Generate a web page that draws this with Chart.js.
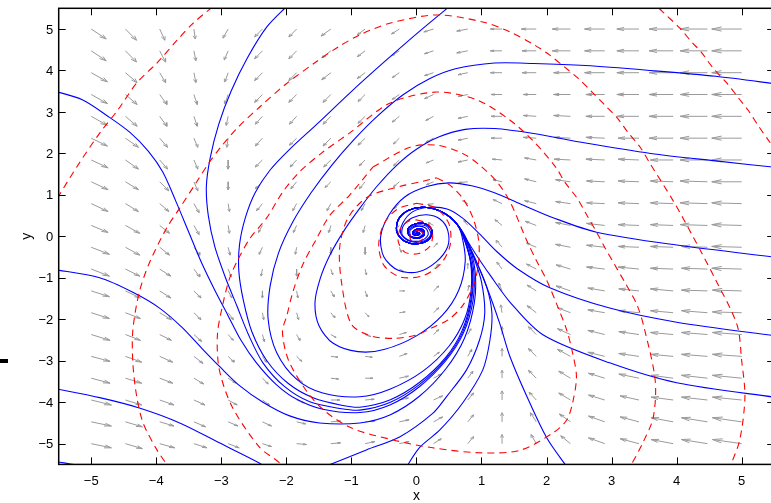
<!DOCTYPE html>
<html>
<head>
<meta charset="utf-8">
<script src="https://cdn.jsdelivr.net/npm/chart.js@4.4.1/dist/chart.umd.min.js"></script>
<style>
  html, body { margin: 0; padding: 0; background: #fff; overflow: hidden; }
  #caja { position: relative; width: 776px; height: 503px; }
  #raya { position: absolute; left: 0; top: 359px; width: 8px; height: 4px; background: #000; }
</style>
</head>
<body>
<div id="caja">
  <canvas id="grafico" width="776" height="503"></canvas>
  <div id="raya"></div>
</div>
<script>
// ticks
const xTicks = [-5, -4, -3, -2, -1, 0, 1, 2, 3, 4, 5];
const yTicks = [-5, -4, -3, -2, -1, 0, 1, 2, 3, 4, 5];

// malla de flechas (columnas x, filas y de arriba a abajo)
const gridX = [-5, -4.474, -3.947, -3.421, -2.895, -2.368, -1.842, -1.316, -0.789, -0.263, 0.263, 0.789, 1.316, 1.842, 2.368, 2.895, 3.421, 3.947, 4.474, 5];
const gridY = [5, 4.474, 3.947, 3.421, 2.895, 2.368, 1.842, 1.316, 0.789, 0.263, -0.263, -0.789, -1.316, -1.842, -2.368, -2.895, -3.421, -3.947, -4.474, -5];

// componente x de cada flecha, una lista por columna
const arrowU = [
  [.23,.23,.25,.25,.25,.25,.26,.26,.26,.26,.28,.28,.28,.28,.29,.29,.29,.31,.31,.31],
  [.17,.17,.18,.18,.18,.2,.2,.2,.2,.22,.22,.22,.23,.23,.23,.25,.25,.25,.26,.26],
  [.08,.09,.09,.11,.11,.12,.12,.14,.14,.15,.15,.17,.17,.18,.18,.2,.2,.22,.22,.23],
  [.02,.03,.03,.05,.05,.06,.06,.06,.08,.08,.09,.09,.11,.11,.12,.14,.15,.17,.18,.2],
  [-.08,-.06,-.05,-.05,-.03,-.02,0,0,.02,.02,.03,.05,.06,.08,.08,.09,.12,.14,.15,.17],
  [-.12,-.12,-.12,-.12,-.11,-.11,-.11,-.11,-.09,-.06,-.05,-.02,0,.02,.03,.06,.09,.11,.14,.14],
  [-.12,-.12,-.12,-.12,-.11,-.11,-.1,-.09,-.06,-.05,-.02,0,.02,.03,.05,.08,.09,.12,.14,.15],
  [-.15,-.14,-.14,-.12,-.12,-.12,-.11,-.09,-.06,-.03,0,.03,.05,.06,.08,.11,.12,.14,.15,.15],
  [-.12,-.12,-.12,-.11,-.11,-.11,-.09,-.09,-.06,-.03,0,.02,.03,.06,.09,.11,.12,.14,.15,.15],
  [-.12,-.12,-.11,-.11,-.11,-.09,-.09,-.09,-.08,-.06,.03,.06,.08,.09,.11,.12,.14,.14,.15,.15],
  [-.15,-.14,-.14,-.14,-.12,-.12,-.11,-.11,-.09,-.08,.06,.08,.08,.08,.08,.09,.12,.14,.14,.12],
  [-.17,-.17,-.15,-.15,-.15,-.15,-.15,-.14,-.08,-.06,-.03,0,.02,.03,.05,.06,.08,.09,.09,.09],
  [-.18,-.18,-.18,-.17,-.17,-.17,-.15,-.14,-.14,-.11,-.09,-.08,-.05,-.02,0,0,0,0,0,0],
  [-.23,-.22,-.22,-.2,-.2,-.2,-.18,-.18,-.18,-.17,-.15,-.15,-.14,-.14,-.12,-.12,-.12,-.11,-.09,-.08],
  [-.28,-.28,-.26,-.26,-.26,-.25,-.25,-.23,-.23,-.23,-.23,-.22,-.22,-.2,-.2,-.2,-.18,-.18,-.17,-.15],
  [-.31,-.31,-.31,-.29,-.29,-.29,-.29,-.28,-.28,-.28,-.28,-.28,-.26,-.26,-.26,-.26,-.25,-.25,-.25,-.25],
  [-.34,-.34,-.34,-.34,-.34,-.32,-.32,-.32,-.32,-.32,-.32,-.32,-.31,-.31,-.31,-.31,-.31,-.29,-.29,-.29],
  [-.37,-.37,-.37,-.37,-.37,-.37,-.35,-.35,-.35,-.35,-.35,-.35,-.35,-.35,-.35,-.34,-.34,-.34,-.34,-.34],
  [-.42,-.42,-.42,-.42,-.42,-.42,-.42,-.42,-.42,-.42,-.4,-.4,-.4,-.4,-.4,-.4,-.4,-.4,-.4,-.4],
  [-.46,-.46,-.46,-.46,-.46,-.46,-.46,-.46,-.46,-.46,-.46,-.46,-.45,-.45,-.45,-.45,-.45,-.45,-.45,-.45]
];
// componente y de cada flecha, una lista por columna
const arrowV = [
  [-.24,-.24,-.22,-.22,-.22,-.19,-.19,-.19,-.19,-.17,-.17,-.17,-.14,-.14,-.14,-.12,-.12,-.12,-.1,-.1],
  [-.27,-.27,-.24,-.24,-.24,-.22,-.22,-.19,-.19,-.19,-.19,-.17,-.17,-.14,-.14,-.14,-.12,-.12,-.12,-.12],
  [-.27,-.27,-.24,-.24,-.24,-.22,-.22,-.22,-.19,-.19,-.19,-.17,-.17,-.17,-.14,-.14,-.12,-.12,-.1,-.1],
  [-.24,-.24,-.24,-.24,-.24,-.22,-.22,-.22,-.22,-.22,-.19,-.19,-.17,-.17,-.17,-.17,-.14,-.12,-.12,-.1],
  [-.22,-.22,-.22,-.22,-.22,-.22,-.22,-.19,-.19,-.19,-.19,-.19,-.17,-.17,-.14,-.14,-.12,-.12,-.1,-.1],
  [-.19,-.19,-.19,-.19,-.19,-.19,-.17,-.17,-.17,-.17,-.17,-.17,-.17,-.17,-.17,-.14,-.14,-.12,-.1,-.07],
  [-.19,-.19,-.19,-.19,-.19,-.17,-.17,-.17,-.17,-.17,-.17,-.17,-.17,-.17,-.14,-.12,-.1,-.07,-.05,-.02],
  [-.17,-.17,-.17,-.19,-.19,-.19,-.17,-.14,-.17,-.17,-.17,-.14,-.14,-.12,-.07,-.02,-.02,0,.02,.02],
  [-.14,-.14,-.14,-.17,-.17,-.17,-.14,-.17,-.17,-.17,-.17,-.14,-.14,-.1,-.05,-.02,0,.02,.02,.05],
  [-.12,-.12,-.12,-.12,-.14,-.14,-.14,-.12,-.12,-.12,-.12,-.05,0,.02,.05,.07,.05,.05,.05,.05],
  [-.07,-.07,-.07,-.1,-.1,-.1,-.07,-.07,-.02,.07,.1,.12,.12,.12,.12,.1,.1,.1,.12,.12],
  [-.05,-.05,-.05,-.05,-.05,-.05,-.05,-.02,.07,.12,.14,.14,.14,.14,.14,.17,.17,.17,.17,.17],
  [0,0,0,0,0,0,.02,.05,.1,.14,.17,.17,.19,.19,.19,.19,.19,.22,.22,.22],
  [0,0,0,0,.02,.02,.05,.07,.07,.1,.1,.12,.14,.17,.19,.19,.19,.19,.22,.22],
  [0,0,0,0,.02,.02,.02,.05,.05,.07,.07,.1,.12,.12,.14,.17,.17,.17,.19,.19],
  [0,0,0,0,0,.02,.02,.02,.02,.05,.05,.05,.07,.07,.1,.1,.12,.12,.14,.14],
  [0,0,0,0,0,0,.02,.02,.02,.02,.02,.05,.05,.05,.07,.07,.1,.1,.12,.12],
  [0,0,0,0,0,0,0,.02,.02,.02,.02,.02,.05,.05,.05,.05,.07,.07,.1,.1],
  [0,0,0,0,0,0,0,.02,.02,.02,.02,.02,.02,.05,.05,.05,.07,.07,.1,.1],
  [0,0,0,0,0,0,0,0,.02,.02,.02,.02,.02,.02,.05,.05,.07,.07,.1,.1]
];

// trayectorias azules (x, y)
const nucleo = [[0.62,0.3],[0.4,0.58],[0.12,0.7],[-0.12,0.63],[-0.28,0.4],[-0.3,0.1],[-0.18,-0.12],[0.02,-0.18],[0.2,-0.06],[0.24,0.14],[0.14,0.3],[-0.02,0.3],[-0.13,0.18],[-0.11,0.02],[0.02,-0.05],[0.12,0.04],[0.1,0.16],[0,0.17],[-0.06,0.08],[-0.01,0.02],[0.05,0.06],[0.02,0.1],[0,0.06]];
const tray1 = [[-5.6,3.52],[-5.13,3.29],[-4.72,2.87],[-4.4,2.5],[-4.12,2.05],[-3.9,1.55],[-3.7,0.85],[-3.5,0.1],[-3.3,-0.65],[-3.1,-1.3],[-2.9,-1.9],[-2.7,-2.5],[-2.46,-3.05],[-2.15,-3.58],[-1.84,-3.93],[-1.44,-4.17],[-0.87,-4.25],[-0.4,-4.06],[0.05,-3.62],[0.45,-3.0],[0.72,-2.34],[0.87,-1.55],[0.88,-0.82],[0.78,-0.16]];
const tray2 = [[-1.96,5.6],[-2.3,5.05],[-2.6,4.3],[-2.85,3.5],[-3.04,2.7],[-3.17,1.9],[-3.23,1.2],[-3.2,0.5],[-3.1,-0.25],[-2.94,-0.98],[-2.76,-1.68],[-2.58,-2.38],[-2.36,-3.05],[-2.03,-3.62],[-1.64,-3.99],[-1.18,-4.15],[-0.87,-4.19],[-0.4,-4.0],[0.05,-3.57],[0.45,-2.96],[0.71,-2.31],[0.85,-1.53],[0.86,-0.8],[0.76,-0.15]];
const tray3 = [[0.55,5.6],[0.05,4.95],[-0.5,4.2],[-1.03,3.45],[-1.5,2.75],[-1.95,2.1],[-2.25,1.6],[-2.48,1.05],[-2.63,0.45],[-2.72,-0.2],[-2.73,-0.85],[-2.66,-1.55],[-2.53,-2.3],[-2.3,-3.0],[-1.97,-3.55],[-1.58,-3.9],[-1.13,-4.08],[-0.87,-4.12],[-0.4,-3.94],[0.05,-3.52],[0.45,-2.92],[0.7,-2.28],[0.84,-1.5],[0.85,-0.78],[0.75,-0.14]];
const tray4 = [[5.6,3.66],[4.6,3.86],[3.6,4.0],[2.6,4.12],[1.8,4.17],[1.2,4.18],[0.6,4.04],[0.2,3.8],[-0.2,3.42],[-0.6,2.9],[-0.95,2.35],[-1.3,1.72],[-1.62,1.05],[-1.9,0.35],[-2.12,-0.4],[-2.25,-1.2],[-2.28,-2.0],[-2.15,-2.8],[-1.84,-3.45],[-1.44,-3.78],[-0.87,-3.87],[-0.4,-3.68],[0.1,-3.25],[0.5,-2.65],[0.74,-2.0],[0.84,-1.3],[0.83,-0.6],[0.73,-0.05]];
const tray5 = [[5.6,1.65],[4.6,1.82],[3.6,2.0],[2.6,2.25],[1.8,2.48],[1.2,2.6],[0.75,2.58],[0.35,2.4],[0.0,2.1],[-0.3,1.72],[-0.6,1.22],[-0.87,0.68],[-1.12,0.12],[-1.33,-0.45],[-1.48,-1.02],[-1.56,-1.6],[-1.5,-2.15],[-1.28,-2.58],[-0.9,-2.78],[-0.5,-2.73],[0.0,-2.4],[0.4,-1.9],[0.65,-1.3],[0.75,-0.6],[0.7,0.0]];
const tray6 = [[5.6,-0.52],[4.0,-0.21],[2.77,0.1],[2.1,0.45],[1.6,0.78],[1.2,1.05],[0.85,1.22],[0.5,1.29],[0.16,1.2],[-0.18,0.95],[-0.42,0.52],[-0.55,0.0],[-0.5,-0.5],[-0.28,-0.82],[0.02,-0.86],[0.3,-0.62],[0.48,-0.25],[0.48,0.15],[0.36,0.42],[0.16,0.52],[-0.06,0.45],[-0.2,0.26],[-0.22,0.04],[-0.1,-0.1],[0.08,-0.1],[0.18,0.04],[0.14,0.2],[0,0.24],[-0.1,0.14],[-0.08,0],[0.04,-0.02],[0.1,0.08],[0.04,0.14],[-0.03,0.09],[0,0.04]];
const tray7 = [[5.6,-2.42],[4.0,-2.07],[2.97,-1.73],[2.05,-1.24],[1.55,-0.78],[1.23,-0.36],[0.97,0.06],[0.71,0.44],[0.47,0.66],[0.2,0.7],[-0.06,0.59],[-0.21,0.32],[-0.24,0.06],[-0.1,-0.12],[0.1,-0.12],[0.22,0.04],[0.16,0.24],[0,0.27],[-0.12,0.15],[-0.1,0],[0.04,-0.04],[0.12,0.06],[0.06,0.15],[-0.03,0.1],[0,0.04]];
const tray8 = [[5.6,-3.9],[4.0,-3.53],[2.97,-3.05],[1.95,-2.38],[1.44,-1.59],[1.13,-0.93],[0.9,-0.4],[0.76,-0.05]];
const tray9 = [[2.33,-5.6],[2.0,-4.85],[1.7,-3.87],[1.44,-2.91],[1.28,-2.1],[1.08,-1.22],[0.82,-0.26]];
const tray10 = [[-0.17,-5.6],[0.05,-5.09],[0.36,-4.67],[0.71,-4.02],[1.02,-3.22],[1.13,-2.5],[1.16,-1.85],[1.08,-1.22],[0.92,-0.6],[0.8,-0.2]];
const tray11 = [[-1.48,-5.6],[-0.77,-5.15],[-0.26,-4.84],[0.25,-4.27],[0.46,-3.87],[0.77,-3.22],[0.97,-2.5],[1.05,-1.85],[1.0,-1.1],[0.88,-0.5],[0.77,-0.1]];
const tray12 = [[-5.6,-0.79],[-4.87,-1.0],[-4.36,-1.35],[-3.95,-1.73],[-3.6,-2.2],[-3.3,-2.7],[-3.02,-3.15],[-2.72,-3.6],[-2.36,-4.0],[-1.95,-4.33],[-1.49,-4.5],[-0.87,-4.5],[-0.4,-4.3],[0.05,-3.85],[0.45,-3.2],[0.74,-2.45],[0.89,-1.6],[0.9,-0.82],[0.79,-0.14]];
const tray13 = [[-5.6,-3.66],[-4.87,-3.89],[-4.26,-4.14],[-3.64,-4.5],[-3.03,-4.98],[-2.41,-5.47],[-2.3,-5.6]];
const tray14 = [[-5.6,-5.42],[-5.22,-5.52],[-5.1,-5.6]];

// curvas rojas discontinuas
const rojaO1 = [[-5.75,0.3],[-5.52,0.92],[-5.22,1.68],[-4.87,2.49],[-4.59,3.05],[-4.3,3.7],[-3.99,4.18],[-3.68,4.73],[-3.44,5.13],[-3.2,5.45],[-3.0,5.7]];
const rojaO2 = [[3.6,5.7],[3.79,5.41],[4.05,5.02],[4.23,4.69],[4.39,4.42],[4.56,4.06],[4.77,3.7],[4.94,3.36],[5.1,3.04],[5.25,2.68],[5.41,2.32],[5.6,1.9]];
const rojaA = [[-3.8,-5.7],[-3.84,-5.51],[-3.99,-5.15],[-4.2,-4.51],[-4.3,-3.87],[-4.36,-3.05],[-4.36,-2.26],[-4.26,-1.34],[-4.1,-0.62],[-3.84,0.2],[-3.64,0.68],[-3.38,1.31],[-3.2,1.75],[-3.0,2.17],[-2.75,2.62],[-2.41,3.12],[-2.0,3.68],[-1.55,4.2],[-1.2,4.57],[-0.87,4.86],[-0.41,5.14],[0.31,5.34],[1.02,5.17],[1.44,4.93],[1.82,4.61],[2.05,4.37],[2.28,4.08],[2.48,3.82],[2.7,3.48],[2.9,3.16],[3.09,2.85],[3.25,2.51],[3.44,2.15],[3.59,1.76],[3.95,0.85],[4.25,0.0],[4.6,-1.05],[4.93,-2.14],[5.0,-3.0],[5.05,-3.87],[4.97,-4.91],[4.82,-5.56],[4.78,-5.7]];
const rojaB = [[-2.0,-5.7],[-2.1,-5.47],[-2.41,-5.09],[-2.83,-4.12],[-3.03,-3.22],[-3.06,-2.38],[-2.98,-1.66],[-2.87,-1.0],[-2.74,-0.55],[-2.56,-0.05],[-2.3,0.45],[-2.06,1.06],[-1.8,1.55],[-1.45,2.02],[-1.03,2.49],[-0.41,3.21],[0.31,3.48],[0.93,3.29],[1.44,2.8],[1.82,2.26],[2.15,1.65],[2.28,1.31],[2.47,0.92],[2.62,0.51],[2.77,0.1],[2.9,-0.28],[3.05,-0.69],[3.2,-1.1],[3.39,-1.65],[3.5,-2.2],[3.67,-3.47],[3.64,-4.37],[3.48,-4.98],[3.28,-5.56],[3.2,-5.7]];
const rojaC = [[-0.67,1.67],[-0.1,2.15],[0.31,2.2],[0.71,2.0],[0.97,1.72],[1.24,1.31],[1.44,0.83],[1.69,-0.08],[1.84,-0.57],[2.0,-1.05],[2.15,-1.61],[2.31,-2.26],[2.4,-2.81],[2.46,-3.39],[2.4,-4.02],[2.31,-4.43],[2.1,-4.74],[1.59,-5.16],[0.97,-5.22],[0.25,-5.1],[-0.36,-4.91],[-1.03,-4.6],[-1.54,-4.02],[-1.95,-3.05],[-2.06,-2.31],[-1.99,-1.9],[-1.9,-1.34],[-1.75,-0.69],[-1.53,-0.04],[-1.33,0.51],[-1.03,0.99],[-0.67,1.67]];
const rojaD = [[0.31,1.41],[0.51,1.24],[0.71,0.92],[0.87,0.44],[0.96,-0.14],[0.95,-0.7],[0.87,-1.2],[0.71,-1.67],[0.5,-2.0],[0.25,-2.2],[0.0,-2.38],[-0.35,-2.46],[-0.7,-2.4],[-1.0,-2.12],[-1.15,-1.13],[-1.18,-0.26],[-1.05,0.45],[-0.75,0.95],[-0.26,1.2],[0.1,1.33],[0.31,1.41]];
const rojaE = [[0.0,0.8],[0.3,0.68],[0.5,0.3],[0.52,-0.2],[0.38,-0.65],[0.1,-0.95],[-0.25,-0.98],[-0.5,-0.7],[-0.58,-0.2],[-0.5,0.3],[-0.3,0.65],[0.0,0.8]];
const rojaF = [[0.0,0.4],[0.18,0.3],[0.25,0.05],[0.2,-0.25],[0.02,-0.42],[-0.18,-0.38],[-0.28,-0.12],[-0.25,0.18],[-0.13,0.36],[0.0,0.4]];
const rojaG = [[0.02,0.15],[0.1,0.08],[0.1,-0.06],[0.0,-0.14],[-0.09,-0.08],[-0.09,0.05],[0.02,0.15]];

const azules = [
  tray1.concat(nucleo), tray2.concat(nucleo), tray3.concat(nucleo), tray4.concat(nucleo),
  tray5.concat(nucleo), tray6, tray7, tray8.concat(nucleo), tray9.concat(nucleo),
  tray10.concat(nucleo), tray11.concat(nucleo), tray12.concat(nucleo), tray13, tray14
];
const rojas = [rojaO1, rojaO2, rojaA, rojaB, rojaC, rojaD, rojaE, rojaF, rojaG];

const aPuntos = (lista) => lista.map(p => ({x: p[0], y: p[1]}));

// flechas estilo quiver (alpha = beta = 0.33)
let flechas = [];
const alfa = 0.33, beta = 0.33;
gridX.forEach((x, c) => {
  gridY.forEach((y, f) => {
    let u = arrowU[c][f], v = arrowV[c][f];
    let tx = x + u, ty = y + v;
    flechas.push({x: x, y: y}, {x: tx, y: ty}, {x: null, y: null});
    flechas.push({x: tx - alfa * (u + beta * v), y: ty - alfa * (v - beta * u)});
    flechas.push({x: tx, y: ty});
    flechas.push({x: tx - alfa * (u - beta * v), y: ty - alfa * (v + beta * u)});
    flechas.push({x: null, y: null});
  });
});

let datasets = [];
rojas.forEach(r => {
  datasets.push({ data: aPuntos(r), showLine: true, borderColor: "#ff0000", borderWidth: 1.1,
    borderDash: [7, 5], pointRadius: 0, tension: 0.3, order: 0 });
});
azules.forEach(t => {
  datasets.push({ data: aPuntos(t), showLine: true, borderColor: "#0000ff", borderWidth: 1.1,
    pointRadius: 0, tension: 0.3, order: 1 });
});
datasets.push({ data: flechas, showLine: true, borderColor: "#9a9a9a", borderWidth: 1,
  pointRadius: 0, tension: 0, spanGaps: false, order: 2 });

const signo = (v) => v < 0 ? "\u2212" + Math.abs(v) : String(v);

// marco, marcas hacia dentro y etiquetas de los ticks
const marco = {
  id: "marco",
  afterDatasetsDraw(chart) {
    const {ctx, chartArea: a, scales: {x, y}} = chart;
    ctx.save();
    ctx.strokeStyle = "#000";
    ctx.lineWidth = 1;
    ctx.beginPath();
    xTicks.forEach(v => {
      let px = Math.round(x.getPixelForValue(v)) + 0.5;
      ctx.moveTo(px, a.bottom); ctx.lineTo(px, a.bottom - 7);
      ctx.moveTo(px, a.top); ctx.lineTo(px, a.top + 7);
    });
    yTicks.forEach(v => {
      let py = Math.round(y.getPixelForValue(v)) + 0.5;
      ctx.moveTo(a.left, py); ctx.lineTo(a.left + 7, py);
      ctx.moveTo(a.right, py); ctx.lineTo(a.right - 7, py);
    });
    ctx.stroke();
    ctx.lineWidth = 1.5;
    ctx.strokeRect(a.left, a.top, a.right - a.left, a.bottom - a.top);

    ctx.fillStyle = "#000";
    ctx.font = "13px 'Liberation Sans', Arial, sans-serif";
    ctx.textBaseline = "alphabetic";
    ctx.textAlign = "center";
    xTicks.forEach(v => ctx.fillText(signo(v), x.getPixelForValue(v), a.bottom + 20.6));
    ctx.textAlign = "right";
    yTicks.forEach(v => ctx.fillText(signo(v), a.left - 5.5, y.getPixelForValue(v) + 4.6));
    ctx.restore();
  }
};

Chart.defaults.font.family = "'Liberation Sans', Arial, sans-serif";
Chart.defaults.color = "#000";

new Chart(document.getElementById("grafico").getContext("2d"), {
  type: "scatter",
  data: { datasets: datasets },
  options: {
    responsive: false,
    animation: false,
    devicePixelRatio: 1,
    events: [],
    layout: { padding: { left: 0, right: 1.8, top: 8.3, bottom: 0 } },
    plugins: { legend: { display: false }, tooltip: { enabled: false } },
    scales: {
      x: {
        type: "linear", min: -5.5, max: 5.5,
        grid: { display: false, drawTicks: false, tickLength: 0 },
        border: { display: false },
        afterBuildTicks: (s) => { s.ticks = xTicks.map(v => ({ value: v })); },
        afterFit: (s) => { s.height = 38.6; },
        ticks: { display: false },
        title: { display: true, text: "x", font: { size: 14, lineHeight: 1 }, padding: { top: 0, bottom: 0 } }
      },
      y: {
        type: "linear", min: -5.5, max: 5.5,
        grid: { display: false, drawTicks: false, tickLength: 0 },
        border: { display: false },
        afterBuildTicks: (s) => { s.ticks = yTicks.map(v => ({ value: v })); },
        afterFit: (s) => { s.width = 58.7; },
        ticks: { display: false },
        title: { display: true, text: "y", font: { size: 14, lineHeight: 1 }, padding: { top: 20, bottom: 0 } }
      }
    }
  },
  plugins: [marco]
});
</script>
</body>
</html>
